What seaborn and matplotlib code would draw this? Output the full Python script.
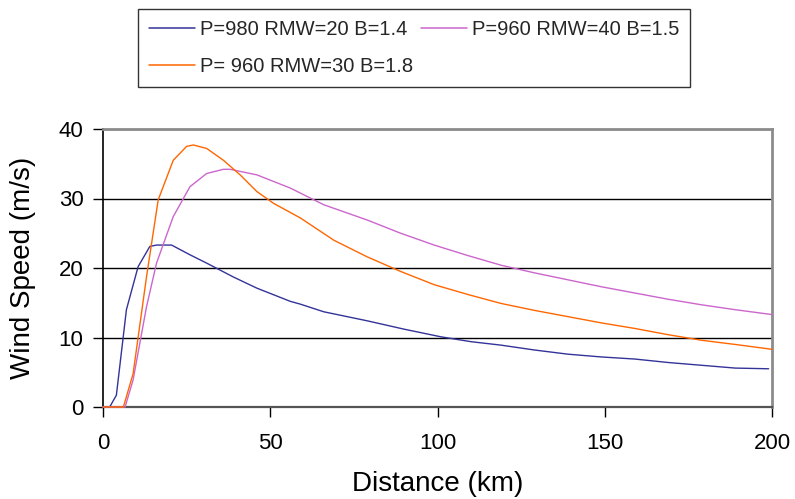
import numpy as np
import pandas as pd
import matplotlib
matplotlib.use("Agg")
import matplotlib.pyplot as plt
import seaborn as sns
from matplotlib.lines import Line2D

# ---- data ----
dist_a = [0, 2, 4, 7, 10.5, 14, 16, 20.5, 26, 31, 39, 46, 56, 59, 66, 73, 79,
          90, 101, 110, 119, 129, 139, 149, 159, 169, 179, 189, 199]
speed_a = [0, 0, 1.7, 14.0, 20.2, 23.1, 23.3, 23.3, 21.9, 20.7, 18.7, 17.1, 15.2, 14.8,
           13.7, 13.0, 12.4, 11.2, 10.1, 9.4, 8.9, 8.2, 7.6, 7.2, 6.9, 6.4, 6.0, 5.6, 5.5]

dist_b = [0, 6.6, 9, 13, 16, 21, 26, 31, 36, 38, 46, 56, 66, 79, 89, 99,
          109, 119, 129, 139, 149, 159, 169, 179, 189, 200]
speed_b = [0, 0, 3.9, 14.4, 20.7, 27.4, 31.7, 33.6, 34.2, 34.2, 33.4, 31.5, 29.1, 26.9,
           25.0, 23.3, 21.8, 20.4, 19.3, 18.3, 17.3, 16.4, 15.5, 14.7, 14.0, 13.3]

dist_c = [0, 6.1, 9, 13, 16.5, 21, 25, 27, 31, 36, 41, 46, 51, 59, 69, 79, 89,
          99, 109, 119, 129, 139, 149, 159, 169, 179, 189, 200]
speed_c = [0, 0, 4.8, 18.7, 29.8, 35.5, 37.5, 37.7, 37.2, 35.5, 33.4, 31.0, 29.3, 27.2,
           24.0, 21.6, 19.5, 17.6, 16.2, 14.9, 13.9, 13.0, 12.1, 11.3, 10.4, 9.6, 9.0, 8.3]

labels = ["P=980 RMW=20 B=1.4", "P=960 RMW=40 B=1.5", "P= 960 RMW=30 B=1.8"]
colors = ["#333399", "#CC66CC", "#FF6600"]
x_ticks = [0, 50, 100, 150, 200]
y_ticks = [0, 10, 20, 30, 40]

frames = []
for lab, d, s in zip(labels, [dist_a, dist_b, dist_c], [speed_a, speed_b, speed_c]):
    frames.append(pd.DataFrame({"Distance": d, "Speed": s, "Series": lab}))
df = pd.concat(frames, ignore_index=True)

sns.set_theme(style="white")
plt.rcParams["font.family"] = ["Liberation Sans", "DejaVu Sans"]

fig = plt.figure(figsize=(7.95, 4.99), dpi=100)
ax = fig.add_axes([103 / 795, 1 - 407 / 499, (772 - 103) / 795, (407 - 129) / 499])

sns.lineplot(data=df, x="Distance", y="Speed", hue="Series", hue_order=labels,
             palette=dict(zip(labels, colors)), estimator=None, sort=False,
             linewidth=1.0, ax=ax, legend=False)
for ln in ax.get_lines():
    ln.set_zorder(3)
    ln.set_clip_on(False)

ax.set_xlim(0, 200)
ax.set_ylim(0, 40)
ax.set_xticks(x_ticks)
ax.set_yticks(y_ticks)
ax.yaxis.grid(True, color="black", linewidth=1.0)
ax.set_axisbelow(True)

for side in ["top", "right"]:
    ax.spines[side].set_color("#8c8c8c")
    ax.spines[side].set_linewidth(2.0)
ax.spines["left"].set_color("black")
ax.spines["left"].set_linewidth(1.2)
ax.spines["bottom"].set_color("#555555")
ax.spines["bottom"].set_linewidth(1.6)

ax.tick_params(axis="both", direction="out", length=7, width=1.0, color="black",
               labelsize=16, labelcolor="black")
ax.tick_params(axis="x", pad=12, bottom=True)
ax.tick_params(axis="y", pad=7, left=True)

ax.set_xlabel("Distance (km)", fontsize=20, labelpad=12, color="black")
ax.set_ylabel("Wind Speed (m/s)", fontsize=20, labelpad=16, color="black")

# legend: order so that ncol=2 fills rows as in the reference
handles = {lab: Line2D([], [], color=c, linewidth=1.1) for lab, c in zip(labels, colors)}
order = [labels[0], labels[2], labels[1]]
leg = fig.legend([handles[l] for l in order], order, ncol=2,
                 loc="upper left", bbox_to_anchor=(138 / 795, 1 - 9 / 499),
                 frameon=True, fancybox=False, fontsize=14.5,
                 handlelength=2.3, handletextpad=0.25, columnspacing=0.35,
                 labelspacing=0.9, borderpad=0.55, borderaxespad=0)
leg.get_frame().set_edgecolor("black")
leg.get_frame().set_linewidth(1.0)

fig.savefig("out.png", dpi=100, facecolor="white")
